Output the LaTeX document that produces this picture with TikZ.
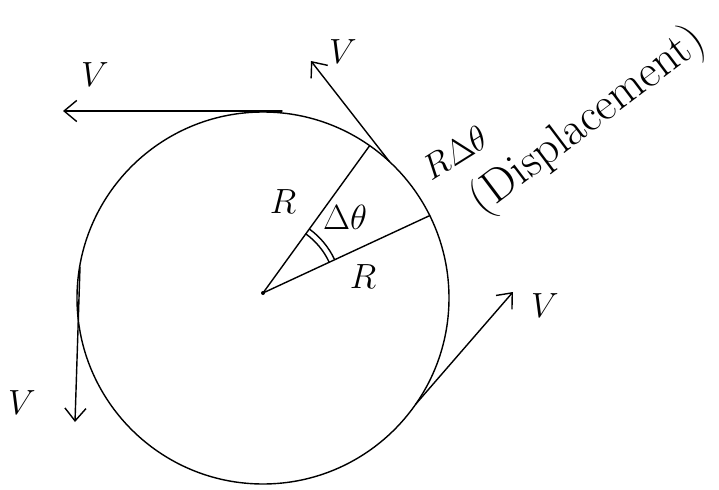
\documentclass[tikz,border=0pt]{standalone}
\usetikzlibrary{arrows.meta,calc}
\begin{document}
\begin{tikzpicture}[x=0.025cm,y=0.025cm,
  ln/.style={line width=1pt,line cap=round},
  vec/.style={ln,-{Straight Barb[length=9pt,width=15pt,line width=1pt]}},
  lbl/.style={inner sep=0pt,font=\fontsize{26}{30}\selectfont}]
\useasboundingbox (0,0) rectangle (719,489);
% circle and centre
\coordinate (C) at (263,191);
\coordinate (O) at (263,196);
\draw[ln] (C) circle (186);
\fill (O) circle (2);
% radii
\coordinate (P1) at ($(C)+(55:186)$);
\coordinate (P2) at ($(C)+(26.3:186)$);
\draw[ln] (O) -- (P1);
\draw[ln] (O) -- (P2);
% double angle arc
\draw[ln] ($(O)+(25:73)$) arc (25:54:73);
\draw[ln] ($(O)+(25:79)$) arc (25:54:79);
% velocity vectors
\coordinate (T1) at (282,378);
\coordinate (A1) at (63,378);
\draw[vec] (T1) -- (A1);
\coordinate (T2) at ($(C)+(47.2:186)$);
\coordinate (A2) at (311,428);
\draw[vec] (T2) -- (A2);
\coordinate (T3) at (80,222);
\coordinate (A3) at (75,67);
\draw[vec] (T3) -- (A3);
\coordinate (T4) at ($(C)+(-34.8:186)$);
\coordinate (A4) at (513,197);
\draw[vec] (T4) -- (A4);
% labels
\node[lbl] (v1) at (95,414) {$V$};
\node[lbl] (v2) at (343,437) {$V$};
\node[lbl] (v3) at (22,86) {$V$};
\node[lbl] (v4) at (545,183) {$V$};
\node[lbl] (r1) at (283,287) {$R$};
\node[lbl] (r2) at (363,212) {$R$};
\node[lbl] (dth) at (345,272) {$\Delta\theta$};
\node[lbl,rotate=32] (rdth) at (455,336) {$R\Delta\theta$};
\node[lbl,rotate=37,font=\fontsize{33}{38}\selectfont] (disp) at (588,368) {(Displacement)};
\end{tikzpicture}
\end{document}
